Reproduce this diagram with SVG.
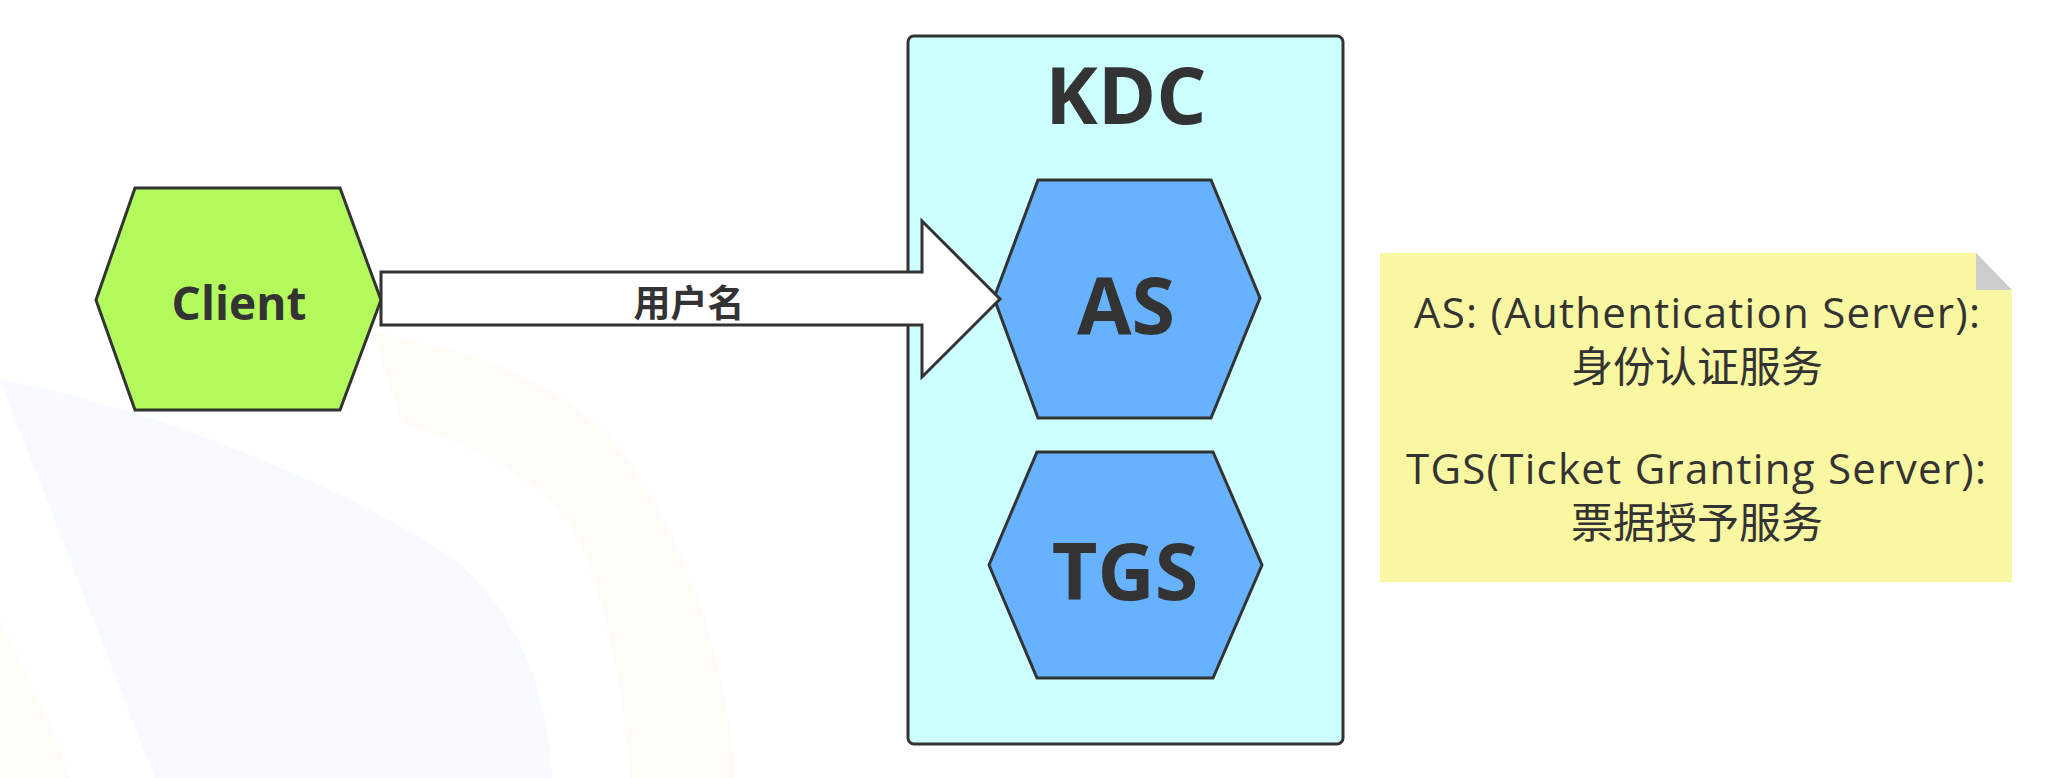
<svg xmlns="http://www.w3.org/2000/svg" width="2063" height="778" viewBox="0 0 2063 778">
  <style>
    .hex { stroke: #333333; stroke-width: 3; stroke-linejoin: miter; }
    .green { fill: #b3fa5c; }
    .blue { fill: #66b2ff; }
    .big { font-family: "Open Sans", "Noto Sans", sans-serif; font-weight: bold; fill: #333333; text-anchor: middle; }
    .note-t { font-family: "Open Sans", "Noto Sans CJK SC", sans-serif; font-size: 42px; fill: #333333; text-anchor: middle; }
    .lbl { font-family: "Noto Sans CJK SC", sans-serif; font-size: 37px; font-weight: bold; fill: #333333; text-anchor: middle; }
  </style>
  <rect width="2063" height="778" fill="#ffffff"/>
  <g id="watermark">
    <path d="M0,380 C120,400 320,470 455,560 C525,620 548,700 552,778 L155,778 Z" fill="#f7fbff"/>
    <path d="M373,333 C480,350 580,390 631,463 C680,540 725,640 735,778 L631,778 C620,650 590,540 555,505 C520,470 460,440 402,423 Z" fill="#fffbf7"/>
    <path d="M0,620 C30,680 55,730 69,778 L0,778 Z" fill="#fffbf7"/>
  </g>
  <g id="kdc">
    <rect x="908" y="36" width="435" height="708" rx="6" ry="6" fill="#ccffff" stroke="#333333" stroke-width="3"/>
    <text class="big" x="1126" y="124" font-size="79">KDC</text>
  </g>
  <g id="as">
    <polygon class="hex blue" points="994,298 1038,180 1211,180 1260,298 1211,418 1038,418"/>
    <text class="big" x="1126" y="334" font-size="79">AS</text>
  </g>
  <g id="tgs">
    <polygon class="hex blue" points="989,565 1037,452 1213,452 1262,565 1213,678 1037,678"/>
    <text class="big" x="1125" y="600" font-size="79">TGS</text>
  </g>
  <g id="client">
    <polygon class="hex green" points="96,300 135,188 340,188 381,300 340,410 135,410"/>
    <text class="big" x="239" y="320" font-size="46">Client</text>
  </g>
  <g id="note">
    <polygon points="1380,253 1976,253 2012,290 2012,582 1380,582" fill="#faf7a2"/>
    <polygon points="1976,253 2012,290 1976,290" fill="#cccccc"/>
    <text class="note-t" x="1697" y="328" textLength="566" lengthAdjust="spacing">AS: (Authentication Server):</text>
    <text class="note-t" x="1697" y="382">身份认证服务</text>
    <text class="note-t" x="1696" y="484" textLength="580" lengthAdjust="spacing">TGS(Ticket Granting Server):</text>
    <text class="note-t" x="1697" y="538">票据授予服务</text>
  </g>
  <g id="connectors">
    <path d="M381,272 L922,272 L922,221 L1000,299 L922,377 L922,325 L381,325 Z" fill="#ffffff" stroke="#333333" stroke-width="3" stroke-linejoin="miter"/>
    <text class="lbl" x="689" y="317">用户名</text>
  </g>
</svg>
